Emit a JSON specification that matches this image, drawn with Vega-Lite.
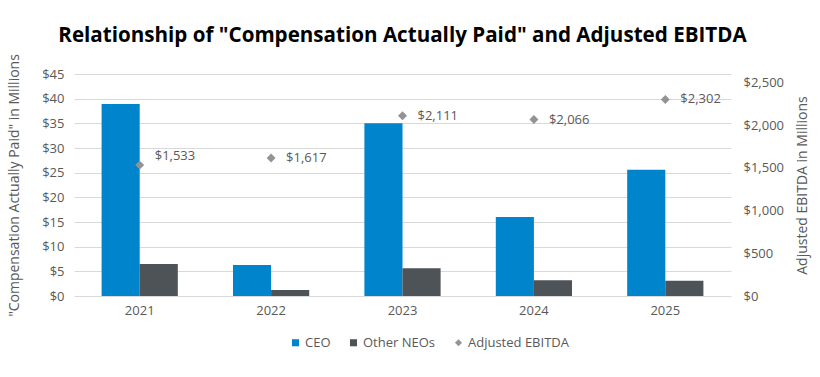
{
  "$schema": "https://vega.github.io/schema/vega-lite/v6.json",
  "width": 657,
  "height": 222,
  "autosize": {"type": "none"},
  "padding": {"left": 74, "top": 74, "right": 89, "bottom": 81},
  "config": {
    "font": "Open Sans",
    "view": {"stroke": null},
    "axis": {"labelColor": "#595959", "titleColor": "#595959", "labelFontSize": 13, "titleFontSize": 14, "titleFontWeight": "normal", "ticks": false, "domain": false, "gridColor": "#d9d9d9"}
  },
  "title": {
    "text": "Relationship of \"Compensation Actually Paid\" and Adjusted EBITDA",
    "fontSize": 20.6,
    "fontWeight": "bold",
    "color": "#000000",
    "anchor": "middle",
    "offset": 7
  },
  "datasets": {
    "comp": [
      {"year": "2021", "series": "CEO", "value": 38.9},
      {"year": "2021", "series": "Other NEOs", "value": 6.5},
      {"year": "2022", "series": "CEO", "value": 6.3},
      {"year": "2022", "series": "Other NEOs", "value": 1.2},
      {"year": "2023", "series": "CEO", "value": 35.0},
      {"year": "2023", "series": "Other NEOs", "value": 5.6},
      {"year": "2024", "series": "CEO", "value": 16.0},
      {"year": "2024", "series": "Other NEOs", "value": 3.2},
      {"year": "2025", "series": "CEO", "value": 25.6},
      {"year": "2025", "series": "Other NEOs", "value": 3.1}
    ],
    "ebitda": [
      {"year": "2021", "series": "Adjusted EBITDA", "value": 1533},
      {"year": "2022", "series": "Adjusted EBITDA", "value": 1617},
      {"year": "2023", "series": "Adjusted EBITDA", "value": 2111},
      {"year": "2024", "series": "Adjusted EBITDA", "value": 2066},
      {"year": "2025", "series": "Adjusted EBITDA", "value": 2302}
    ]
  },
  "encoding": {
    "x": {
      "field": "year",
      "type": "nominal",
      "scale": {"paddingInner": 0.42, "paddingOuter": 0.21},
      "axis": {"title": null, "labelAngle": 0, "labelPadding": 8, "grid": false}
    }
  },
  "layer": [
    {
      "data": {"name": "comp"},
      "mark": {"type": "bar"},
      "encoding": {
        "xOffset": {"field": "series", "sort": ["CEO", "Other NEOs"]},
        "y": {
          "field": "value",
          "type": "quantitative",
          "scale": {"domain": [0, 45]},
          "axis": {"title": "\"Compensation Actually Paid\" in Millions", "format": "$,.0f", "tickCount": 9, "labelPadding": 10, "titlePadding": 20}
        },
        "color": {
          "field": "series",
          "type": "nominal",
          "scale": {"domain": ["CEO", "Other NEOs", "Adjusted EBITDA"], "range": ["#0084CC", "#4E5358", "#949494"]},
          "legend": {
            "title": null,
            "orient": "none",
            "legendX": 215,
            "legendY": 262,
            "direction": "horizontal",
            "labelColor": "#595959",
            "labelFontSize": 13,
            "labelOffset": 3,
            "symbolSize": 50,
            "symbolType": "square",
            "columnPadding": 16,
            "symbolStrokeWidth": 0,
            "encode": {
              "symbols": {"update": {"shape": {"signal": "datum.value === 'Adjusted EBITDA' ? 'diamond' : 'square'"}}}
            }
          }
        }
      }
    },
    {
      "data": {"name": "ebitda"},
      "layer": [
        {
          "mark": {"type": "point", "shape": "diamond", "filled": true, "size": 80, "opacity": 1, "color": "#939393"},
          "encoding": {
            "y": {
              "field": "value",
              "type": "quantitative",
              "scale": {"domain": [0, 2500]},
              "axis": {"orient": "right", "title": "Adjusted EBITDA in Millions", "titleAngle": 270, "format": "$,.0f", "tickCount": 5, "grid": false, "labelPadding": 12, "titlePadding": 26}
            }
          }
        },
        {
          "transform": [{"filter": "datum.year !== '2021'"}],
          "mark": {"type": "text", "align": "left", "dx": 15, "fontSize": 13, "color": "#595959"},
          "encoding": {
            "y": {"field": "value", "type": "quantitative"},
            "text": {"field": "value", "type": "quantitative", "format": "$,.0f"}
          }
        },
        {
          "transform": [{"filter": "datum.year === '2021'"}],
          "mark": {"type": "text", "align": "left", "dx": 15, "dy": -9, "fontSize": 13, "color": "#595959"},
          "encoding": {
            "y": {"field": "value", "type": "quantitative"},
            "text": {"field": "value", "type": "quantitative", "format": "$,.0f"}
          }
        }
      ]
    }
  ],
  "resolve": {"scale": {"y": "independent"}}
}
